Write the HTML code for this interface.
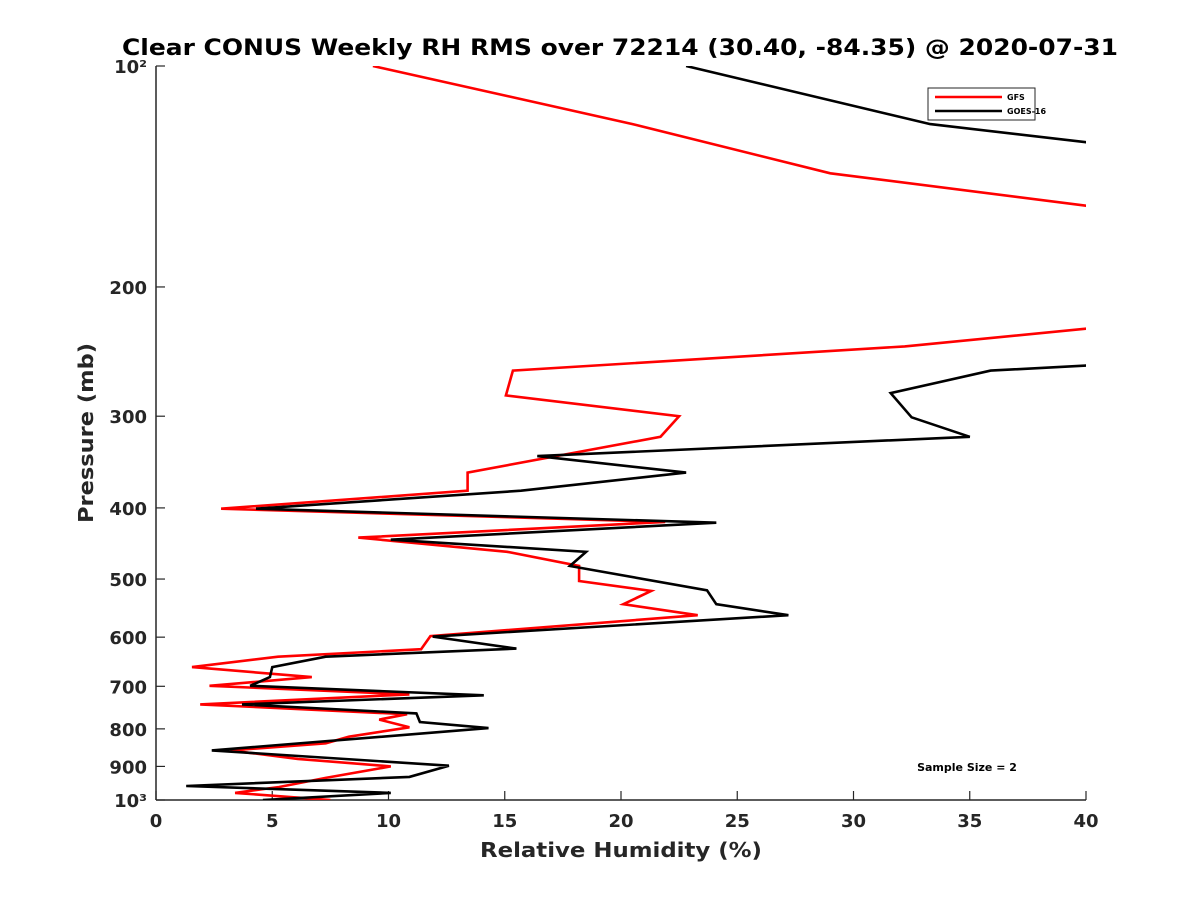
<!DOCTYPE html>
<html><head><meta charset="utf-8"><style>
body{margin:0;background:#fff;}
svg{display:block;font-family:"DejaVu Sans","Liberation Sans",sans-serif;}
</style></head><body>
<svg id="chart" width="1200" height="900">
<text x="620" y="55" text-anchor="middle" font-size="22" font-weight="bold" fill="#000" textLength="996" lengthAdjust="spacingAndGlyphs">Clear CONUS Weekly RH RMS over 72214 (30.40, -84.35) @ 2020-07-31</text>
<defs><clipPath id="plotclip"><rect x="156" y="66" width="930" height="734"/></clipPath></defs>
<g id="axes"></g>
<g id="series" clip-path="url(#plotclip)"></g>
<text x="621" y="857" text-anchor="middle" font-size="20" font-weight="bold" fill="#262626" textLength="282" lengthAdjust="spacingAndGlyphs">Relative Humidity (%)</text>
<text transform="translate(93,433) rotate(-90)" text-anchor="middle" font-size="20" font-weight="bold" fill="#262626" textLength="180" lengthAdjust="spacingAndGlyphs">Pressure (mb)</text>
<g>
<rect x="928" y="88" width="107" height="32" fill="#fff" stroke="#262626" stroke-width="1"/>
<line x1="935" y1="97" x2="1002" y2="97" stroke="#f00" stroke-width="2.5"/>
<text x="1007" y="100" font-size="8" font-weight="bold" fill="#000">GFS</text>
<line x1="935" y1="111" x2="1002" y2="111" stroke="#000" stroke-width="2.5"/>
<text x="1007" y="114" font-size="8" font-weight="bold" fill="#000">GOES-16</text>
</g>
<text x="967" y="771" text-anchor="middle" font-size="11" font-weight="bold" fill="#000">Sample Size = 2</text>
</svg>
<script>
const xTicks=[0,5,10,15,20,25,30,35,40];
const yTicks=[100,200,300,400,500,600,700,800,900,1000];
const yTickLabels=["10²","200","300","400","500","600","700","800","900","10³"];
const gfsRH=[9.33,20.5,29.0,40,41,41,40,32.2,15.35,15.05,22.5,21.7,13.4,13.4,2.8,21.9,8.7,15.1,18.2,18.2,21.3,20.1,23.3,11.8,11.4,5.25,1.55,6.7,2.3,10.9,1.9,10.8,9.6,10.9,8.3,7.3,3.2,6.1,10.1,7.3,5.3,3.4,7.5];
const gfsP=[100,120,140,155,160,220,228,241,260,281,300,320,358,379,401,418,439,459,480,503,519,541,560,598,623,638,659,680,699,718,741,764,777,796,820,837,856,879,900,933,960,978,1000];
const goesRH=[22.8,33.3,40,41,41,40,35.9,31.6,32.5,35.0,16.4,22.8,15.7,4.3,24.1,10.1,18.5,17.8,23.7,24.1,27.2,11.9,15.5,7.3,5.0,4.9,4.05,14.1,3.7,11.2,11.35,14.3,2.4,12.6,10.9,1.3,10.1,4.6];
const goesP=[100,120,127,130,250,256,260,279,301,320,340,358,379,401,419,442,459,480,518,541,560,599,622,638,659,680,699,720,741,762,783,798,856,898,930,957,978,1000];
const NS="http://www.w3.org/2000/svg";
const X0=156,X1=1086,Y0=66,Y1=800;
function xs(v){return X0+(v-0)/(40-0)*(X1-X0);}
function ys(p){return Y0+(Math.log10(p)-2)*(Y1-Y0);}
const axes=document.getElementById('axes');
function mk(tag,attrs,parent){const e=document.createElementNS(NS,tag);for(const k in attrs)e.setAttribute(k,attrs[k]);parent.appendChild(e);return e;}
const xl=mk('line',{x1:X0,y1:Y1,x2:X1,y2:Y1,stroke:'#262626','stroke-width':1.5},axes);


const yl=mk('line',{x1:X0,y1:Y0,x2:X0,y2:Y1,stroke:'#262626','stroke-width':1.5},axes);


xTicks.forEach(t=>{
  mk('line',{x1:xs(t),y1:Y1,x2:xs(t),y2:Y1-9,stroke:'#262626','stroke-width':1.2},axes);
  const tx=mk('text',{x:xs(t),y:Y1+27,'text-anchor':'middle','font-size':18,'font-weight':'bold',fill:'#262626'},axes);
  tx.textContent=t;
  
  
});
yTicks.forEach((t,i)=>{
  mk('line',{x1:X0,y1:ys(t),x2:X0+9,y2:ys(t),stroke:'#262626','stroke-width':1.2},axes);
  const lab=yTickLabels[i];
  const tx=mk('text',{x:X0-9,y:ys(t)+7,'text-anchor':'end','font-size':18,'font-weight':'bold',fill:'#262626'},axes);
  tx.textContent=lab;
  
  
});
const sg=document.getElementById('series');
function draw(rh,p,color,name){
  const pts=rh.map((v,i)=>xs(v).toFixed(1)+','+ys(p[i]).toFixed(1)).join(' ');
  const pl=mk('polyline',{points:pts,fill:'none',stroke:color,'stroke-width':2.6,'stroke-linejoin':'miter'},sg);
  
  
}
draw(gfsRH,gfsP,'#f00','gfs-line');
draw(goesRH,goesP,'#000','goes16-line');
</script>
</body></html>
